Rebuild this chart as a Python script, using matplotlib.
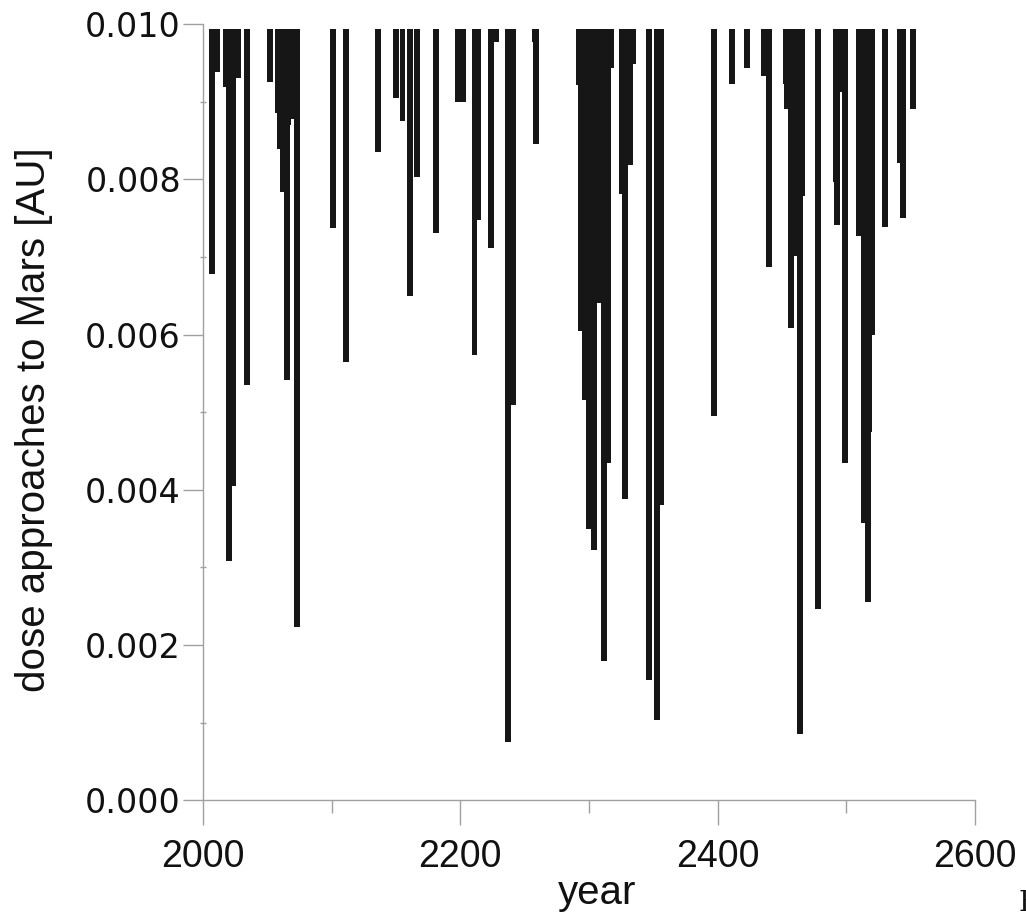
import matplotlib
matplotlib.use("Agg")
import matplotlib.pyplot as plt
from matplotlib.ticker import MultipleLocator, FormatStrFormatter

# close approaches to Mars, year of approach and distance in AU
years = [2007, 2011, 2018, 2020, 2023, 2027, 2034, 2052, 2058, 2060, 2062, 2065,
         2066, 2070, 2073, 2101, 2111, 2136, 2150, 2155, 2161, 2166, 2181, 2198,
         2202, 2211, 2214, 2224, 2228, 2237, 2241, 2258, 2259, 2292, 2294, 2297,
         2300, 2304, 2308, 2312, 2315, 2317, 2326, 2328, 2332, 2334, 2347, 2353,
         2356, 2397, 2411, 2423, 2436, 2440, 2453, 2454, 2457, 2462, 2464, 2466,
         2478, 2492, 2493, 2496, 2499, 2510, 2514, 2517, 2518, 2520, 2530, 2542,
         2544, 2552]
dist = [0.00678, 0.00938, 0.00919, 0.00308, 0.00405, 0.00930, 0.00535, 0.00925,
        0.00885, 0.00839, 0.00783, 0.00541, 0.00870, 0.00877, 0.00223, 0.00737,
        0.00565, 0.00835, 0.00905, 0.00875, 0.00650, 0.00803, 0.00731, 0.00900,
        0.00900, 0.00573, 0.00747, 0.00712, 0.00977, 0.00075, 0.00509, 0.00977,
        0.00845, 0.00921, 0.00605, 0.00515, 0.00349, 0.00323, 0.00641, 0.00179,
        0.00435, 0.00943, 0.00781, 0.00388, 0.00818, 0.00948, 0.00155, 0.00103,
        0.00381, 0.00495, 0.00923, 0.00943, 0.00933, 0.00687, 0.00923, 0.00890,
        0.00609, 0.00701, 0.00085, 0.00778, 0.00247, 0.00797, 0.00741, 0.00913,
        0.00435, 0.00727, 0.00357, 0.00255, 0.00475, 0.00600, 0.00739, 0.00821,
        0.00750, 0.00890]

top = 0.00994
sans = ['Liberation Sans', 'DejaVu Sans']
ink = '#111111'
grey = '#a0a0a0'

fig = plt.figure(figsize=(10.26, 9.22), dpi=100)
ax = fig.add_axes([0.198, 0.132, 0.752, 0.842])

ax.bar(years, [top - d for d in dist], bottom=dist, width=4.5,
       color='#161616', linewidth=0)

ax.set_xlim(2000, 2600)
ax.set_ylim(0, 0.010)

for s in ['top', 'right']:
    ax.spines[s].set_visible(False)
for s in ['left', 'bottom']:
    ax.spines[s].set_color(grey)
    ax.spines[s].set_linewidth(1.0)

ax.xaxis.set_major_locator(MultipleLocator(200))
ax.xaxis.set_minor_locator(MultipleLocator(100))
ax.yaxis.set_major_locator(MultipleLocator(0.002))
ax.yaxis.set_minor_locator(MultipleLocator(0.001))
ax.yaxis.set_major_formatter(FormatStrFormatter('%.3f'))

ax.tick_params(axis='x', which='major', length=18, width=1, color=grey,
               direction='out', pad=10, labelsize=27, labelcolor=ink)
ax.tick_params(axis='x', which='minor', length=9.5, width=1, color=grey,
               direction='out')
ax.tick_params(axis='y', which='major', length=14.5, width=1, color=grey,
               direction='out', pad=1.5, labelsize=24, labelcolor=ink)
ax.tick_params(axis='y', which='minor', length=5, width=1, color=grey,
               direction='inout')

for lab in ax.get_xticklabels():
    lab.set_family(sans)

# axis titles placed in figure pixels
fig.text(597 / 1026, 1 - 904 / 922, 'year', fontsize=29, family=sans,
         color=ink, ha='center', va='baseline')
fig.text(34 / 1026, 1 - 420 / 922, 'dose approaches to Mars [AU]',
         fontsize=29, family=sans, color=ink, rotation=90,
         ha='center', va='center')

fig.text(1018 / 1026, 0.012, 'F', fontsize=20, family='DejaVu Serif',
         color=ink)

fig.savefig('out.png', dpi=100)
